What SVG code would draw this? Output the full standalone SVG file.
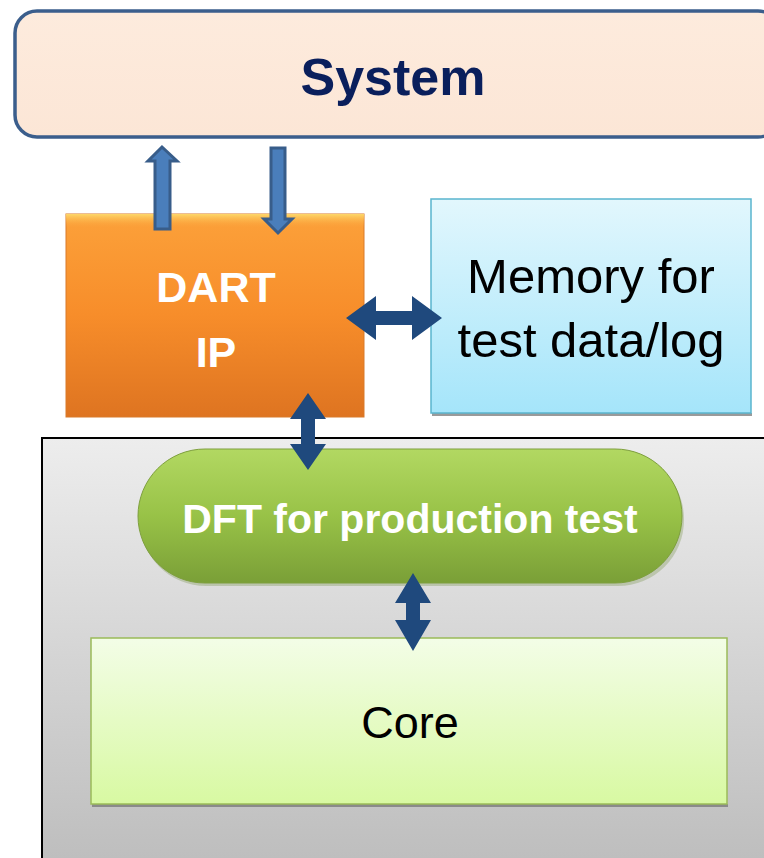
<svg xmlns="http://www.w3.org/2000/svg" width="764" height="858" viewBox="0 0 764 858">
<defs>
<linearGradient id="gSys" x1="0" y1="0" x2="0" y2="1"><stop offset="0" stop-color="#FDEBDD"/><stop offset="1" stop-color="#FCE6D6"/></linearGradient>
<linearGradient id="gDart" x1="0" y1="0" x2="0" y2="1"><stop offset="0" stop-color="#FCA13A"/><stop offset="0.5" stop-color="#F78D2A"/><stop offset="1" stop-color="#DE7421"/></linearGradient>
<linearGradient id="gDartTop" x1="0" y1="0" x2="0" y2="1"><stop offset="0" stop-color="#FDD86A"/><stop offset="1" stop-color="#FCA13A" stop-opacity="0"/></linearGradient>
<linearGradient id="gMem" x1="0" y1="0" x2="0" y2="1"><stop offset="0" stop-color="#E2F7FD"/><stop offset="1" stop-color="#A5E5FA"/></linearGradient>
<linearGradient id="gBox" x1="0" y1="0" x2="0" y2="1"><stop offset="0" stop-color="#EDEDED"/><stop offset="1" stop-color="#BDBDBD"/></linearGradient>
<linearGradient id="gDft" x1="0" y1="0" x2="0" y2="1"><stop offset="0" stop-color="#B2D862"/><stop offset="0.5" stop-color="#98C247"/><stop offset="1" stop-color="#7A9F37"/></linearGradient>
<linearGradient id="gCore" x1="0" y1="0" x2="0" y2="1"><stop offset="0" stop-color="#F3FDE7"/><stop offset="1" stop-color="#D8F9A2"/></linearGradient>
</defs>
<style>
.bold{font-family:"Liberation Sans",Arial,sans-serif;font-weight:bold;text-anchor:middle}
.reg{font-family:"Liberation Sans",Arial,sans-serif;text-anchor:middle;fill:#000}
.arrow{fill:#1F497D}
.sarrow{fill:#4A7EBB;stroke:#385D8A;stroke-width:3}
</style>
<g id="container">
<rect x="42" y="438" width="730" height="430" fill="url(#gBox)" stroke="#000" stroke-width="2"/>
</g>
<g id="system">
<rect x="15" y="11" width="765" height="126" rx="22" fill="url(#gSys)" stroke="#3B5E8C" stroke-width="3.5"/>
<text class="bold" x="393" y="95" font-size="52" fill="#0A1F5C">System</text>
</g>
<g id="dart">
<rect x="66" y="214" width="298" height="203" fill="url(#gDart)" stroke="#D97A2B" stroke-width="1"/>
<rect x="66" y="214" width="298" height="14" fill="url(#gDartTop)"/>
<text class="bold" x="216" y="302" font-size="43" fill="#fff">DART</text>
<text class="bold" x="216" y="367" font-size="43" fill="#fff">IP</text>
</g>
<g id="memory">
<rect x="432" y="413" width="320" height="3" fill="#9A9A9A"/>
<rect x="431" y="199" width="320" height="214" fill="url(#gMem)" stroke="#5AB5CE" stroke-width="1.5"/>
<text class="reg" x="591" y="293" font-size="49">Memory for</text>
<text class="reg" x="591" y="357" font-size="49">test data/log</text>
</g>
<g id="dft">
<rect x="140" y="453" width="544" height="133" rx="66" fill="#6E8A3A" opacity="0.3"/>
<rect x="138" y="449" width="544" height="134" rx="67" fill="url(#gDft)" stroke="#7E9F3E" stroke-width="1"/>
<text class="bold" x="410" y="533" font-size="41" fill="#fff">DFT for production test</text>
</g>
<g id="core">
<rect x="92" y="804" width="636" height="3" fill="#8A8A8A"/>
<rect x="91" y="638" width="636" height="166" fill="url(#gCore)" stroke="#9BBB59" stroke-width="1.5"/>
<text class="reg" x="410" y="738" font-size="45">Core</text>
</g>
<g id="connectors">
<polygon class="sarrow" points="162,147 177,161 170,161 170,229 155,229 155,161 148,161"/>
<polygon class="sarrow" points="271,148 285,148 285,219 292,219 278,233 264,219 271,219"/>
<polygon class="arrow" points="346,318 376,296 376,311 412,311 412,296 442,318 412,340 412,325 376,325 376,340"/>
<polygon class="arrow" points="308,393 326,419 315,419 315,444 326,444 308,470 290,444 301,444 301,419 290,419"/>
<polygon class="arrow" points="413,573 431,603 420,603 420,620 431,620 413,651 395,620 406,620 406,603 395,603"/>
</g>
</svg>
